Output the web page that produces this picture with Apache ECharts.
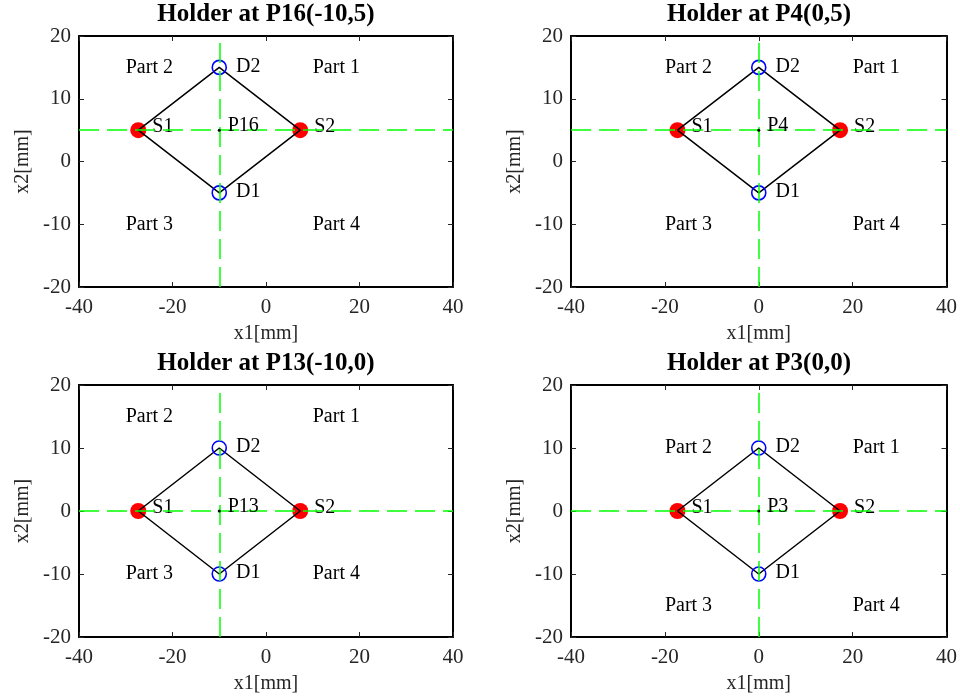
<!DOCTYPE html>
<html>
<head>
<meta charset="utf-8">
<title>Holder positions</title>
<script src="https://cdn.jsdelivr.net/npm/echarts@6/dist/echarts.min.js"></script>
<style>
	html, body { margin: 0; padding: 0; background: #fff; }
	#main { width: 960px; height: 699px; }
</style>
</head>
<body>
<div id="main"></div>
<script>
// 数据：四个子图
var panelTitles = ['Holder at P16(-10,5)', 'Holder at P4(0,5)', 'Holder at P13(-10,0)', 'Holder at P3(0,0)'];
var holderNames = ['P16', 'P4', 'P13', 'P3'];
var holderPos = [[-10, 5], [0, 5], [-10, 0], [0, 0]];
var sourceNames = ['S1', 'S2'];
var sourcePos = [
	[[-27.32, 5], [7.32, 5]],
	[[-17.32, 5], [17.32, 5]],
	[[-27.32, 0], [7.32, 0]],
	[[-17.32, 0], [17.32, 0]]
];
var detectorNames = ['D1', 'D2'];
var detectorPos = [
	[[-10, -5], [-10, 15]],
	[[0, -5], [0, 15]],
	[[-10, -10], [-10, 10]],
	[[0, -10], [0, 10]]
];
var partNames = ['Part 1', 'Part 2', 'Part 3', 'Part 4'];
var partPos = [
	[[10, 15], [-30, 15], [-30, -10], [10, -10]],
	[[20, 15], [-20, 15], [-20, -10], [20, -10]],
	[[10, 15], [-30, 15], [-30, -10], [10, -10]],
	[[20, 10], [-20, 10], [-20, -15], [20, -15]]
];
var xRange = [-40, 40];
var yRange = [-20, 20];
var xStep = 20;
var yStep = 10;

(function(){

	var FONT = '"Liberation Serif", "DejaVu Serif", serif';
	// 子图位置 (px)
	var grids = [
		{ left: 79, top: 36, width: 374, height: 251 },
		{ left: 571, top: 36, width: 376, height: 251 },
		{ left: 79, top: 385, width: 374, height: 252 },
		{ left: 571, top: 385, width: 376, height: 252 }
	];

	var xAxes = [], yAxes = [], series = [], graphics = [];

	function axisBase(show){
		return {
			type: 'value',
			axisLine: { show: true, onZero: false, lineStyle: { color: '#000', width: 2 } },
			axisTick: { show: true, inside: true, length: 5, lineStyle: { color: '#262626', width: 1 } },
			splitLine: { show: false },
			axisLabel: {
				show: show, color: '#262626', fontFamily: FONT, fontSize: 21
			}
		};
	}

	function textLabel(dist, off){
		return {
			show: true, position: 'right', distance: dist, offset: off,
			formatter: function(pr){ return pr.name; },
			color: '#000', fontFamily: FONT, fontSize: 20
		};
	}

	grids.forEach(function(g, i){
		// 下、上 X 轴
		var xb = axisBase(true);
		xb.gridIndex = i; xb.position = 'bottom';
		xb.min = xRange[0]; xb.max = xRange[1]; xb.interval = xStep;
		xb.axisLabel.margin = 10;
		xb.name = 'x1[mm]'; xb.nameLocation = 'middle'; xb.nameGap = 37;
		xb.nameTextStyle = { color: '#262626', fontFamily: FONT, fontSize: 20 };
		var xt = axisBase(false);
		xt.gridIndex = i; xt.position = 'top';
		xt.min = xRange[0]; xt.max = xRange[1]; xt.interval = xStep;
		xAxes.push(xb, xt);

		// 左、右 Y 轴
		var yl = axisBase(true);
		yl.gridIndex = i; yl.position = 'left';
		yl.min = yRange[0]; yl.max = yRange[1]; yl.interval = yStep;
		yl.axisLabel.margin = 8;
		yl.name = 'x2[mm]'; yl.nameLocation = 'middle'; yl.nameGap = 46;
		yl.nameTextStyle = { color: '#262626', fontFamily: FONT, fontSize: 20 };
		var yr = axisBase(false);
		yr.gridIndex = i; yr.position = 'right';
		yr.min = yRange[0]; yr.max = yRange[1]; yr.interval = yStep;
		yAxes.push(yl, yr);

		var xi = 2 * i, yi = 2 * i;
		var s = sourcePos[i], d = detectorPos[i], p = holderPos[i];

		// 红色光源
		series.push({
			type: 'scatter', xAxisIndex: xi, yAxisIndex: yi, z: 2,
			symbol: 'circle', symbolSize: 16,
			itemStyle: { color: '#ff0000', opacity: 1 },
			label: textLabel(6, [0, -3]),
			data: s.map(function(v, k){ return { name: sourceNames[k], value: v }; })
		});

		// 菱形连线 S1-D2-S2-D1-S1
		series.push({
			type: 'line', xAxisIndex: xi, yAxisIndex: yi, z: 3,
			showSymbol: false, symbol: 'none',
			lineStyle: { color: '#000', width: 1.5 },
			data: [s[0], d[1], s[1], d[0], s[0]]
		});

		// 蓝色探测器（空心圆）
		series.push({
			type: 'scatter', xAxisIndex: xi, yAxisIndex: yi, z: 4,
			symbol: 'circle', symbolSize: 14,
			itemStyle: { color: 'rgba(0,0,0,0)', borderColor: '#0000ff', borderWidth: 1.6, opacity: 1 },
			label: textLabel(9, [0, -1]),
			data: d.map(function(v, k){ return { name: detectorNames[k], value: v }; })
		});

		// 中心点 + 绿色虚线
		series.push({
			type: 'scatter', xAxisIndex: xi, yAxisIndex: yi, z: 5,
			symbol: 'circle', symbolSize: 3,
			itemStyle: { color: '#000', opacity: 1 },
			label: textLabel(7, [0, -4]),
			markLine: {
				silent: true, symbol: 'none', animation: false,
				label: { show: false },
				lineStyle: { color: '#00ff00', type: [20, 8], width: 1.5, opacity: 1 },
				data: [{ xAxis: p[0] }, { yAxis: p[1] }]
			},
			data: [{ name: holderNames[i], value: p }]
		});

		// Part 文字
		series.push({
			type: 'scatter', xAxisIndex: xi, yAxisIndex: yi, z: 6,
			symbolSize: 0, silent: true,
			itemStyle: { opacity: 1 },
			label: textLabel(0, [0, 0]),
			data: partPos[i].map(function(v, k){ return { name: partNames[k], value: v }; })
		});

		// 标题
		graphics.push({
			type: 'text',
			x: g.left + g.width / 2,
			y: g.top - 21,
			style: {
				text: panelTitles[i], fill: '#000',
				font: 'bold 25px ' + FONT,
				textAlign: 'center', textVerticalAlign: 'middle'
			}
		});
	});

	var myChart = echarts.init(document.getElementById('main'));
	myChart.setOption({
		animation: false,
		grid: grids,
		xAxis: xAxes,
		yAxis: yAxes,
		series: series,
		graphic: graphics
	});

})();
</script>
</body>
</html>
